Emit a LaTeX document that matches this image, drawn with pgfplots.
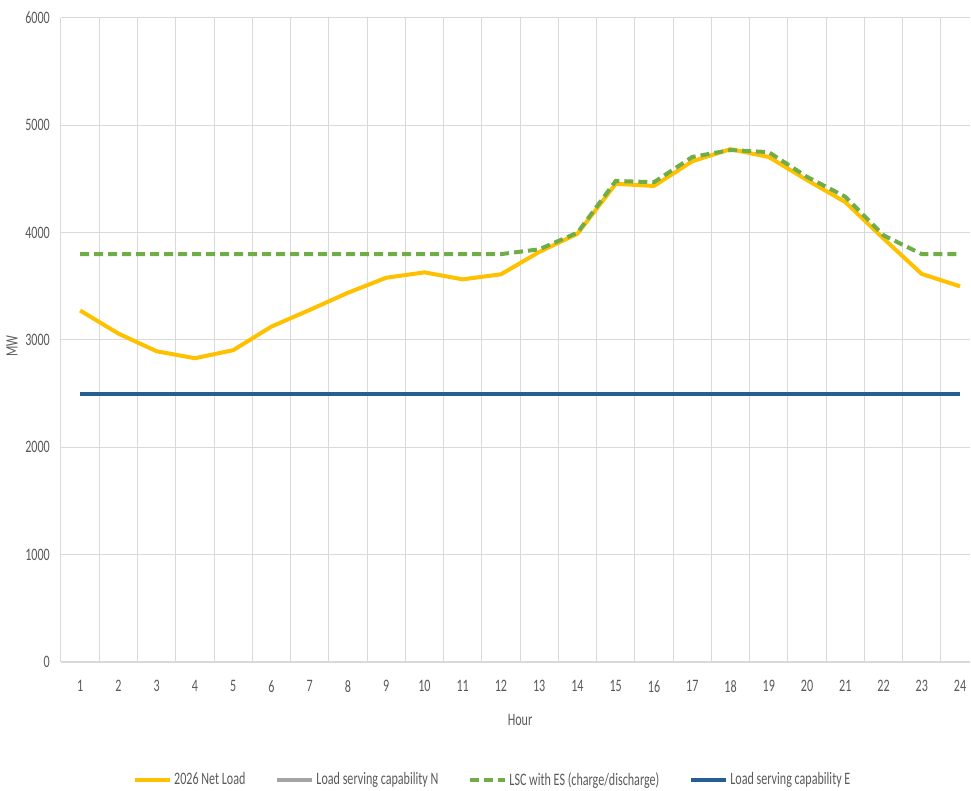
\documentclass[border=0pt]{standalone}
\usepackage{fontspec}
\setmainfont{Carlito}[FakeStretch=0.69]
\usepackage{pgfplots}
\pgfplotsset{compat=1.18}
\definecolor{netload}{HTML}{FFC000}
\definecolor{capN}{HTML}{A5A5A5}
\definecolor{lsc}{HTML}{70AD47}
\definecolor{capE}{HTML}{255E91}
\definecolor{gridc}{HTML}{D9D9D9}
\definecolor{textgray}{HTML}{595959}
\begin{document}
\fontsize{17.5}{21}\selectfont
\begin{tikzpicture}[x=1pt,y=1pt]
\path[use as bounding box] (-61,-129) rectangle (910,662);
\begin{axis}[
  at={(0,0)}, anchor=south west,
  scale only axis, width=909pt, height=644pt,
  xmin=0.5, xmax=24.26, ymin=0, ymax=6000,
  xtick={1,...,24},
  minor xtick={1.5,2.5,...,23.5},
  xminorgrids=true,
  ytick={0,1000,...,6000},
  ymajorgrids=true,
  major tick length=0pt, minor tick length=0pt,
  grid style={draw=gridc, line width=1pt},
  minor grid style={draw=gridc, line width=1pt},
  axis lines=left,
  x axis line style={-, draw=gridc, line width=1.6pt},
  y axis line style={-, draw=gridc, line width=1pt},
  /pgf/number format/assume math mode=true,
  /pgf/number format/1000 sep={},
  yticklabel style={anchor=east, inner sep=0pt, xshift=-11pt, text=textgray},
  xticklabel style={anchor=north, inner sep=0pt, yshift=-18pt, text=textgray},
  xlabel={Hour},
  xlabel style={at={(axis description cs:0.505,0)}, anchor=center, yshift=-58pt, text=textgray},
  ylabel={MW},
  ylabel style={at={(axis description cs:-0.054,0.49)}, anchor=center, text=textgray},
  legend columns=4,
  legend style={at={(axis description cs:0.0792,-0.1832)}, anchor=west, draw=none, fill=none,
    inner sep=0pt, nodes={inner sep=2pt, text=textgray},
    /tikz/every even column/.append style={column sep=28pt}},
  legend cell align=left,
  legend image code/.code={\draw[#1] (0pt,0pt) -- (35pt,0pt);},
]
\addplot[netload, line width=4pt, line join=round] coordinates {
(1,3275) (2,3060) (3,2895) (4,2830) (5,2905) (6,3125) (7,3280) (8,3440)
(9,3580) (10,3630) (11,3565) (12,3612) (13,3820) (14,3990) (15,4455) (16,4435)
(17,4665) (18,4778) (19,4705) (20,4490) (21,4285) (22,3945) (23,3615) (24,3500)};
\addlegendentry{2026 Net Load}
\addplot[capN, line width=4pt] coordinates {
(1,2500) (2,2500) (3,2500) (4,2500) (5,2500) (6,2500) (7,2500) (8,2500)
(9,2500) (10,2500) (11,2500) (12,2500) (13,2500) (14,2500) (15,2500) (16,2500)
(17,2500) (18,2500) (19,2500) (20,2500) (21,2500) (22,2500) (23,2500) (24,2500)};
\addlegendentry{Load serving capability N}
\addplot[lsc, line width=4pt, dash pattern=on 9pt off 5pt] coordinates {
(1,3800) (2,3800) (3,3800) (4,3800) (5,3800) (6,3800) (7,3800) (8,3800)
(9,3800) (10,3800) (11,3800) (12,3800) (13,3845) (14,4000) (15,4482) (16,4470)
(17,4705) (18,4770) (19,4750) (20,4520) (21,4335) (22,3975) (23,3800) (24,3800)};
\addlegendentry{LSC with ES (charge/discharge)}
\addplot[capE, line width=4pt] coordinates {
(1,2500) (2,2500) (3,2500) (4,2500) (5,2500) (6,2500) (7,2500) (8,2500)
(9,2500) (10,2500) (11,2500) (12,2500) (13,2500) (14,2500) (15,2500) (16,2500)
(17,2500) (18,2500) (19,2500) (20,2500) (21,2500) (22,2500) (23,2500) (24,2500)};
\addlegendentry{Load serving capability E}
\end{axis}
\end{tikzpicture}
\end{document}
